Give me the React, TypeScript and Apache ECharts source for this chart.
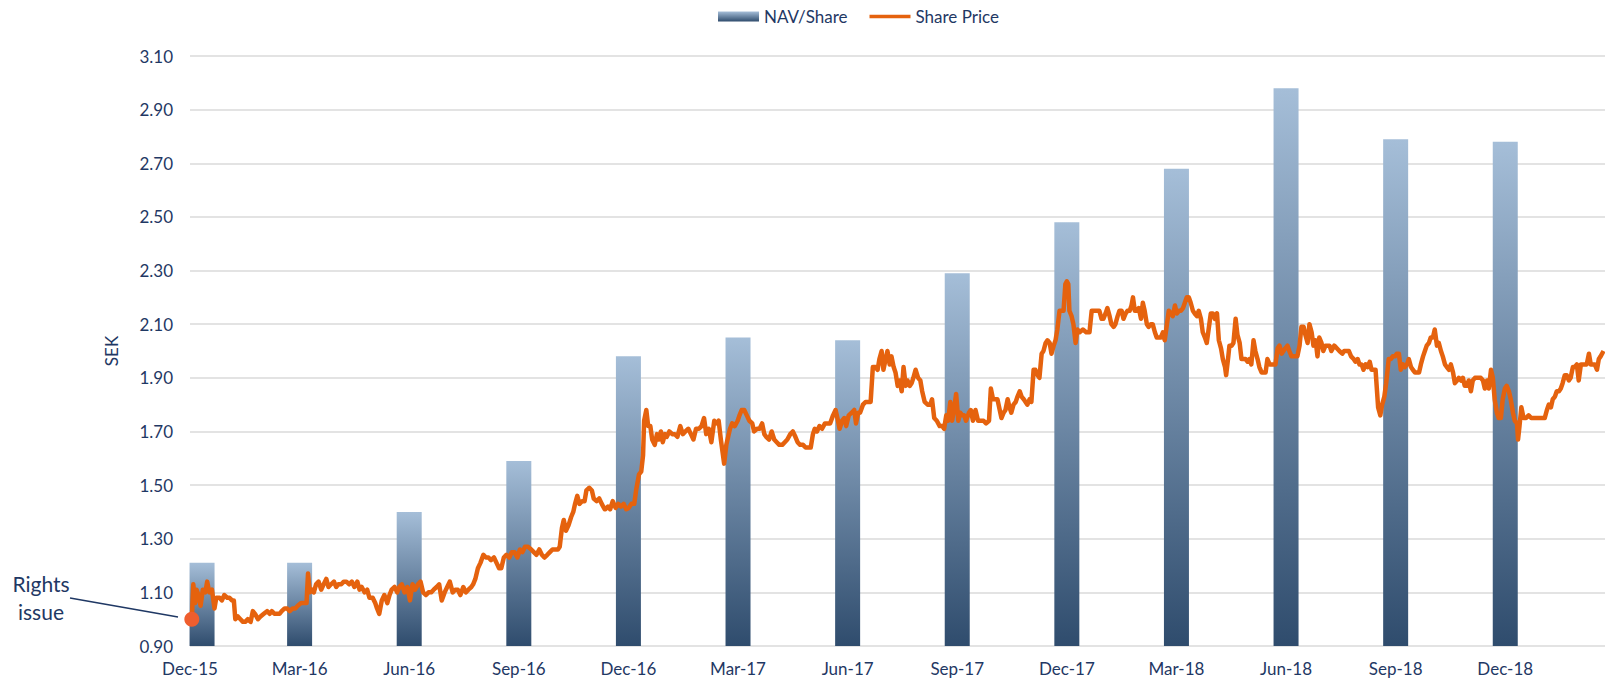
import React, { useEffect, useRef } from "react";
import * as echarts from "echarts";

// x positions are in months since the Dec-15 tick
const quarterLabels = ["Dec-15", "Mar-16", "Jun-16", "Sep-16", "Dec-16", "Mar-17", "Jun-17", "Sep-17", "Dec-17", "Mar-18", "Jun-18", "Sep-18", "Dec-18"];
const navMonths = [0.33, 3, 6, 9, 12, 15, 18, 21, 24, 27, 30, 33, 36];
const navValues = [1.21, 1.21, 1.4, 1.59, 1.98, 2.05, 2.04, 2.29, 2.48, 2.68, 2.98, 2.79, 2.78];
const rightsIssue: [number, number] = [0.05, 1.0];
const yMin = 0.9;
const yMax = 3.1;
const yStep = 0.2;
const xMax = 38.73;

const price2016: [number, number][] = [
  [0.05, 1.0], [0.09, 1.13], [0.14, 1.06], [0.18, 1.11], [0.23, 1.09], [0.29, 1.05], [0.35, 1.11], [0.42, 1.1], [0.47, 1.14], [0.53, 1.1],
  [0.6, 1.11], [0.67, 1.04], [0.72, 1.08], [0.81, 1.08], [0.87, 1.07], [0.94, 1.09], [1.02, 1.08], [1.08, 1.08], [1.15, 1.07], [1.2, 1.07],
  [1.24, 1.0], [1.31, 1.01], [1.38, 1.0], [1.45, 0.99], [1.51, 0.99], [1.58, 1.0], [1.66, 0.99], [1.72, 1.03], [1.78, 1.02], [1.86, 1.0],
  [1.93, 1.01], [2.02, 1.02], [2.11, 1.03], [2.18, 1.02], [2.24, 1.03], [2.31, 1.02], [2.39, 1.02], [2.45, 1.02], [2.51, 1.03], [2.59, 1.04],
  [2.66, 1.04], [2.73, 1.03], [2.81, 1.04], [2.88, 1.04], [2.95, 1.05], [3.04, 1.06], [3.12, 1.06], [3.19, 1.06], [3.23, 1.17], [3.28, 1.1],
  [3.34, 1.11], [3.39, 1.1], [3.45, 1.13], [3.52, 1.14], [3.59, 1.11], [3.66, 1.13], [3.73, 1.15], [3.79, 1.12], [3.86, 1.13], [3.94, 1.14],
  [4.0, 1.12], [4.06, 1.13], [4.14, 1.13], [4.21, 1.14], [4.28, 1.14], [4.36, 1.13], [4.43, 1.14], [4.5, 1.12], [4.58, 1.14], [4.64, 1.11],
  [4.7, 1.12], [4.78, 1.1], [4.85, 1.11], [4.91, 1.08], [5.0, 1.08], [5.07, 1.06], [5.12, 1.04], [5.18, 1.02], [5.25, 1.07], [5.32, 1.09],
  [5.4, 1.06], [5.46, 1.09], [5.52, 1.11], [5.6, 1.12], [5.67, 1.1], [5.73, 1.12], [5.8, 1.13], [5.87, 1.1], [5.95, 1.12], [6.02, 1.07],
  [6.09, 1.13], [6.16, 1.11], [6.24, 1.13], [6.31, 1.14], [6.38, 1.1], [6.46, 1.09], [6.53, 1.1], [6.6, 1.1], [6.67, 1.11], [6.75, 1.12],
  [6.82, 1.13], [6.89, 1.07], [6.97, 1.1], [7.04, 1.12], [7.11, 1.14], [7.19, 1.1], [7.26, 1.11], [7.33, 1.11], [7.4, 1.09], [7.48, 1.12],
  [7.55, 1.1], [7.62, 1.11], [7.7, 1.12], [7.75, 1.13], [7.81, 1.15], [7.88, 1.19], [7.95, 1.21], [8.03, 1.24], [8.1, 1.23], [8.17, 1.23],
  [8.24, 1.22], [8.32, 1.23], [8.39, 1.21], [8.46, 1.19], [8.52, 1.19], [8.59, 1.23], [8.66, 1.24], [8.74, 1.23], [8.81, 1.25], [8.88, 1.25],
  [8.96, 1.23], [9.03, 1.26], [9.1, 1.25], [9.17, 1.27], [9.25, 1.27], [9.34, 1.26], [9.41, 1.25], [9.48, 1.24], [9.56, 1.26], [9.63, 1.24],
  [9.7, 1.23], [9.78, 1.24], [9.85, 1.25], [9.92, 1.26], [9.99, 1.26], [10.07, 1.26], [10.12, 1.27], [10.18, 1.34], [10.23, 1.37], [10.29, 1.33],
  [10.36, 1.35], [10.43, 1.38], [10.49, 1.4], [10.54, 1.43], [10.6, 1.46], [10.66, 1.43], [10.73, 1.44], [10.8, 1.44], [10.85, 1.48], [10.93, 1.49],
  [11.0, 1.48], [11.05, 1.45], [11.13, 1.44], [11.2, 1.45], [11.27, 1.43], [11.35, 1.41],
];

const price2017: [number, number][] = [
  [11.37, 1.41], [11.44, 1.42], [11.5, 1.41], [11.57, 1.44], [11.65, 1.415], [11.72, 1.43], [11.79, 1.42], [11.87, 1.43], [11.94, 1.41], [12.01, 1.415],
  [12.08, 1.43], [12.16, 1.43], [12.21, 1.48], [12.29, 1.54], [12.35, 1.55], [12.4, 1.61], [12.43, 1.74], [12.49, 1.78], [12.54, 1.72], [12.6, 1.72],
  [12.65, 1.67], [12.72, 1.65], [12.78, 1.69], [12.83, 1.67], [12.89, 1.7], [12.94, 1.66], [13.0, 1.69], [13.05, 1.68], [13.12, 1.7], [13.2, 1.69],
  [13.27, 1.69], [13.34, 1.68], [13.42, 1.72], [13.49, 1.69], [13.56, 1.7], [13.64, 1.71], [13.71, 1.69], [13.78, 1.67], [13.85, 1.71], [13.93, 1.71],
  [14.0, 1.72], [14.07, 1.75], [14.13, 1.69], [14.2, 1.71], [14.27, 1.66], [14.35, 1.74], [14.42, 1.73], [14.47, 1.74], [14.53, 1.67], [14.58, 1.62],
  [14.62, 1.58], [14.68, 1.65], [14.73, 1.68], [14.78, 1.71], [14.84, 1.73], [14.91, 1.72], [14.99, 1.74], [15.04, 1.76], [15.1, 1.78], [15.17, 1.78],
  [15.24, 1.76], [15.31, 1.74], [15.39, 1.73], [15.44, 1.7], [15.52, 1.71], [15.59, 1.71], [15.66, 1.73], [15.72, 1.69], [15.77, 1.68], [15.85, 1.67],
  [15.92, 1.7], [15.99, 1.67], [16.06, 1.66], [16.13, 1.65], [16.21, 1.65], [16.28, 1.66], [16.35, 1.67], [16.43, 1.69], [16.5, 1.7], [16.57, 1.68],
  [16.63, 1.66], [16.7, 1.65], [16.78, 1.65], [16.85, 1.64], [16.92, 1.64], [16.99, 1.64], [17.05, 1.69], [17.1, 1.71], [17.16, 1.7], [17.23, 1.72],
  [17.3, 1.71], [17.38, 1.73], [17.45, 1.73], [17.52, 1.73], [17.6, 1.76], [17.67, 1.78], [17.72, 1.75], [17.78, 1.71], [17.85, 1.74], [17.91, 1.75],
  [17.96, 1.72], [18.03, 1.76], [18.11, 1.77], [18.18, 1.78], [18.23, 1.73], [18.29, 1.77], [18.34, 1.77], [18.42, 1.8], [18.49, 1.81], [18.56, 1.81],
  [18.63, 1.81], [18.69, 1.94], [18.76, 1.94], [18.82, 1.93], [18.87, 1.97], [18.93, 2.0], [18.98, 1.93], [19.04, 1.97], [19.09, 2.0], [19.15, 1.95],
  [19.2, 1.98], [19.26, 1.94], [19.31, 1.92], [19.37, 1.87], [19.42, 1.89], [19.48, 1.85], [19.53, 1.94], [19.59, 1.87], [19.64, 1.89], [19.7, 1.87],
  [19.75, 1.88], [19.8, 1.9], [19.86, 1.93], [19.93, 1.9], [19.99, 1.89], [20.04, 1.85], [20.11, 1.81], [20.19, 1.8], [20.26, 1.8], [20.31, 1.82],
  [20.37, 1.75], [20.44, 1.74], [20.52, 1.72], [20.59, 1.72], [20.64, 1.71], [20.7, 1.76], [20.75, 1.74], [20.81, 1.81], [20.86, 1.74], [20.92, 1.79],
  [20.97, 1.84], [21.03, 1.74], [21.08, 1.77], [21.14, 1.76], [21.19, 1.76], [21.24, 1.74], [21.32, 1.77], [21.37, 1.78], [21.43, 1.74], [21.5, 1.78],
  [21.57, 1.74], [21.65, 1.74], [21.72, 1.74], [21.79, 1.73], [21.87, 1.74], [21.92, 1.86], [21.98, 1.82], [22.03, 1.82], [22.1, 1.82],
];

const price2018: [number, number][] = [
  [22.21, 1.75], [22.27, 1.77], [22.32, 1.78], [22.38, 1.82], [22.43, 1.79], [22.48, 1.77], [22.54, 1.8], [22.6, 1.81], [22.65, 1.83], [22.71, 1.85],
  [22.76, 1.83], [22.82, 1.82], [22.87, 1.81], [22.92, 1.8], [22.98, 1.82], [23.03, 1.81], [23.09, 1.93], [23.14, 1.93], [23.2, 1.91], [23.25, 1.9],
  [23.31, 1.99], [23.36, 2.0], [23.42, 2.03], [23.47, 2.04], [23.53, 2.03], [23.58, 1.99], [23.64, 2.02], [23.69, 2.04], [23.74, 2.08], [23.8, 2.15],
  [23.85, 2.15], [23.91, 2.15], [23.96, 2.25], [24.0, 2.26], [24.04, 2.25], [24.07, 2.15], [24.13, 2.13], [24.18, 2.1], [24.24, 2.03], [24.29, 2.08],
  [24.35, 2.07], [24.44, 2.08], [24.53, 2.07], [24.62, 2.07], [24.68, 2.15], [24.75, 2.15], [24.82, 2.15], [24.89, 2.15], [24.95, 2.12], [25.0, 2.12],
  [25.06, 2.14], [25.11, 2.16], [25.17, 2.13], [25.22, 2.1], [25.28, 2.09], [25.33, 2.1], [25.39, 2.13], [25.44, 2.15], [25.5, 2.15], [25.55, 2.12],
  [25.61, 2.14], [25.66, 2.15], [25.72, 2.15], [25.77, 2.17], [25.81, 2.2], [25.86, 2.15], [25.92, 2.15], [25.97, 2.16], [26.03, 2.12], [26.08, 2.18],
  [26.13, 2.15], [26.19, 2.1], [26.24, 2.09], [26.3, 2.1], [26.35, 2.1], [26.41, 2.07], [26.46, 2.05], [26.52, 2.05], [26.57, 2.05], [26.63, 2.07],
  [26.68, 2.04], [26.74, 2.1], [26.79, 2.15], [26.85, 2.14], [26.9, 2.13], [26.96, 2.17], [27.01, 2.14], [27.07, 2.15], [27.12, 2.15], [27.18, 2.16],
  [27.23, 2.18], [27.28, 2.2], [27.34, 2.2], [27.39, 2.18], [27.45, 2.15], [27.5, 2.14], [27.56, 2.13], [27.61, 2.15], [27.67, 2.12], [27.72, 2.07],
  [27.78, 2.05], [27.83, 2.03], [27.89, 2.09], [27.94, 2.14], [28.0, 2.14], [28.05, 2.12], [28.11, 2.14], [28.16, 2.04], [28.22, 2.01], [28.27, 1.97],
  [28.33, 1.94], [28.36, 1.91], [28.42, 1.98], [28.45, 2.02], [28.51, 2.02], [28.56, 2.03], [28.62, 2.12], [28.67, 2.06], [28.73, 2.03], [28.78, 1.97],
  [28.84, 1.97], [28.89, 1.97], [28.95, 1.96], [29.0, 1.97], [29.05, 1.95], [29.11, 2.04], [29.16, 2.0], [29.22, 1.97], [29.27, 1.94], [29.33, 1.92],
  [29.38, 1.92], [29.44, 1.92], [29.49, 1.97], [29.55, 1.95], [29.6, 1.95], [29.66, 1.95], [29.71, 1.95], [29.77, 2.01], [29.82, 2.02], [29.88, 1.99],
  [29.93, 2.0], [29.98, 2.01], [30.04, 2.02], [30.09, 2.0], [30.15, 1.98], [30.2, 1.98], [30.26, 1.98], [30.31, 1.98], [30.37, 2.02], [30.42, 2.09],
  [30.48, 2.09], [30.53, 2.06], [30.59, 2.03], [30.64, 2.1], [30.7, 2.07], [30.75, 2.02], [30.81, 2.04], [30.86, 1.98], [30.91, 2.05], [30.97, 2.03],
  [31.02, 2.0], [31.08, 2.02], [31.13, 2.02], [31.19, 2.02],
];

const price2019: [number, number][] = [
  [31.24, 2.0], [31.32, 2.02], [31.39, 2.01], [31.46, 2.0], [31.54, 1.99], [31.59, 2.0], [31.65, 2.0], [31.72, 2.0], [31.78, 1.98], [31.85, 1.97],
  [31.9, 1.96], [31.96, 1.97], [32.01, 1.95], [32.07, 1.95], [32.12, 1.93], [32.18, 1.95], [32.23, 1.94], [32.29, 1.96], [32.34, 1.93], [32.39, 1.93],
  [32.45, 1.93], [32.49, 1.85], [32.52, 1.79], [32.58, 1.76], [32.63, 1.8], [32.69, 1.83], [32.74, 1.88], [32.78, 1.93], [32.81, 1.97], [32.87, 1.97],
  [32.92, 1.98], [32.98, 1.98], [33.03, 1.99], [33.09, 1.99], [33.14, 1.93], [33.2, 1.95], [33.25, 1.94], [33.31, 1.95], [33.36, 1.97], [33.42, 1.94],
  [33.47, 1.93], [33.53, 1.92], [33.58, 1.92], [33.64, 1.92], [33.69, 1.95], [33.75, 1.98], [33.8, 2.0], [33.85, 2.02], [33.91, 2.03], [33.96, 2.05],
  [34.02, 2.05], [34.07, 2.08], [34.13, 2.02], [34.18, 2.03], [34.24, 2.0], [34.29, 1.98], [34.35, 1.95], [34.4, 1.94], [34.46, 1.93], [34.51, 1.95],
  [34.57, 1.92], [34.62, 1.88], [34.68, 1.89], [34.73, 1.9], [34.79, 1.89], [34.84, 1.9], [34.89, 1.87], [34.95, 1.87], [35.0, 1.89], [35.06, 1.85],
  [35.11, 1.89], [35.17, 1.9], [35.22, 1.9], [35.28, 1.9], [35.33, 1.9], [35.39, 1.89], [35.44, 1.86], [35.5, 1.89], [35.55, 1.86], [35.61, 1.93],
  [35.66, 1.9], [35.71, 1.82], [35.77, 1.77], [35.82, 1.75], [35.88, 1.75], [35.93, 1.82], [35.99, 1.86], [36.04, 1.87], [36.1, 1.85], [36.15, 1.82],
  [36.21, 1.77], [36.26, 1.74], [36.32, 1.73], [36.35, 1.67], [36.39, 1.72], [36.44, 1.79], [36.5, 1.75], [36.57, 1.75], [36.64, 1.76], [36.71, 1.75],
  [36.79, 1.75], [36.87, 1.75], [36.94, 1.75], [37.01, 1.75], [37.08, 1.75], [37.14, 1.78], [37.19, 1.8], [37.25, 1.79], [37.3, 1.82], [37.36, 1.83],
  [37.41, 1.85], [37.47, 1.85], [37.52, 1.86], [37.57, 1.88], [37.63, 1.91], [37.68, 1.91], [37.74, 1.89], [37.79, 1.9], [37.85, 1.94], [37.9, 1.94],
  [37.96, 1.95], [38.01, 1.89], [38.07, 1.95], [38.12, 1.95], [38.18, 1.95], [38.23, 1.95], [38.29, 1.99], [38.34, 1.95], [38.4, 1.95], [38.45, 1.95],
  [38.51, 1.93], [38.56, 1.97], [38.61, 1.98], [38.69, 2.0],
];

const NAVY = "#1F3864";
const ORANGE = "#E5620E";
const FONT = "Lato, 'Open Sans', sans-serif";

export default function App() {
  const ref = useRef<HTMLDivElement>(null);
  useEffect(() => {
    if (!ref.current) return;
    const chart = echarts.init(ref.current, null, { renderer: "svg" });
    const priceData = [...price2016, ...price2017, ...price2018, ...price2019];
    const barGradient = new echarts.graphic.LinearGradient(0, 0, 0, 1, [
      { offset: 0, color: "#A5BED8" },
      { offset: 1, color: "#2F4C6D" },
    ]);
    chart.setOption({
      animation: false,
      backgroundColor: "#ffffff",
      textStyle: { fontFamily: FONT },
      legend: {
        left: 713,
        top: 3,
        itemWidth: 41,
        itemHeight: 10,
        itemGap: 22,
        textStyle: { color: NAVY, fontSize: 17, fontFamily: FONT },
        data: [
          { name: "NAV/Share", icon: "rect" },
          { name: "Share Price", icon: "path://M0,0H44V4H0Z" },
        ],
      },
      grid: { left: 190, right: 0, top: 56, bottom: 35, containLabel: false },
      xAxis: {
        type: "value",
        min: 0,
        max: xMax,
        interval: 3,
        axisLine: { show: false },
        axisTick: { show: false },
        splitLine: { show: false },
        axisLabel: {
          color: NAVY,
          fontSize: 17,
          fontFamily: FONT,
          margin: 14,
          showMaxLabel: false,
          formatter: (v: number) => {
            const i = Math.round(v / 3);
            return Math.abs(v - i * 3) < 1e-6 && quarterLabels[i] ? quarterLabels[i] : "";
          },
        },
      },
      yAxis: {
        type: "value",
        min: yMin,
        max: yMax,
        interval: yStep,
        name: "SEK",
        nameLocation: "middle",
        nameGap: 70,
        nameTextStyle: { color: NAVY, fontSize: 17, fontFamily: FONT },
        axisLine: { show: false },
        axisTick: { show: false },
        splitLine: { lineStyle: { color: "#DADADA", width: 1.5 } },
        axisLabel: {
          color: NAVY,
          fontSize: 17,
          fontFamily: FONT,
          margin: 17,
          formatter: (v: number) => v.toFixed(2),
        },
      },
      series: [
        {
          name: "NAV/Share",
          type: "bar",
          barWidth: 25,
          itemStyle: { color: barGradient },
          data: navMonths.map((t, i) => [t, navValues[i]]),
          z: 1,
        },
        {
          name: "Share Price",
          type: "line",
          showSymbol: false,
          symbol: "none",
          lineStyle: { color: ORANGE, width: 4.5, join: "round" },
          itemStyle: { color: ORANGE },
          data: priceData,
          z: 3,
        },
        {
          name: "Rights issue",
          type: "scatter",
          symbolSize: 15,
          itemStyle: { color: "#EF5E2E", opacity: 1 },
          data: [rightsIssue],
          z: 4,
        },
      ],
      graphic: [
        {
          type: "text",
          x: 41,
          y: 569,
          style: {
            text: "Rights\nissue",
            align: "center",
            verticalAlign: "top",
            fill: NAVY,
            font: `21px ${FONT}`,
            lineHeight: 28,
          },
        },
        {
          type: "line",
          shape: { x1: 70, y1: 598, x2: 178, y2: 617 },
          style: { stroke: NAVY, lineWidth: 1.5 },
        },
      ],
    });
    return () => chart.dispose();
  }, []);
  return (
    <div
      ref={ref}
      style={{ position: "fixed", left: 0, top: 0, width: 1605, height: 681, background: "#fff" }}
    />
  );
}
